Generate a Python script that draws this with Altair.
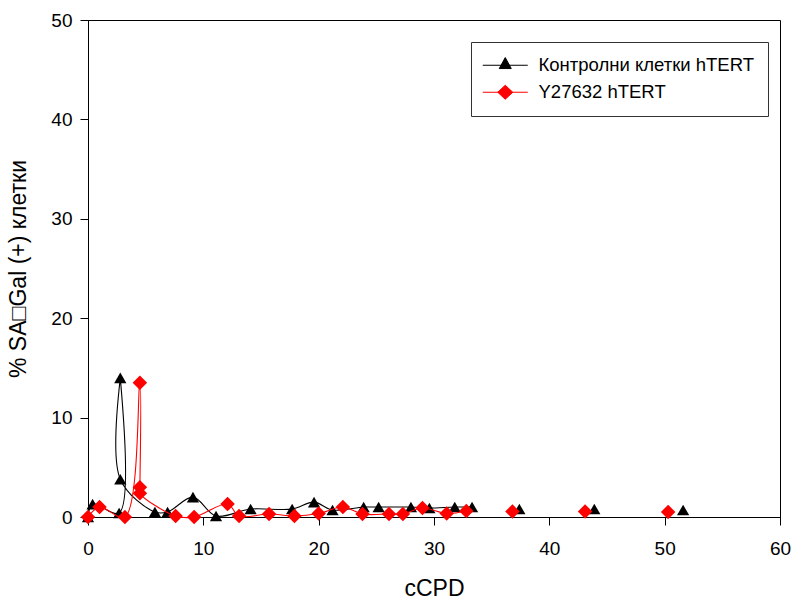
import altair as alt
import pandas as pd

# ---- data ----
series_names = ["Контролни клетки hTERT", "Y27632 hTERT"]

ctrl_x = [0.0, 0.4, 2.7, 2.8, 2.8, 5.8, 6.9, 9.1, 11.1, 14.1, 17.7, 19.6, 21.2, 23.9,
          25.2, 28.0, 29.6, 31.8, 33.3, 37.4, 43.9, 51.6]
ctrl_y = [0.0, 1.3, 0.4, 14.0, 3.8, 0.5, 0.5, 2.0, 0.1, 0.8, 0.8, 1.5, 0.7, 1.0,
          1.0, 1.0, 0.9, 1.0, 1.0, 0.8, 0.8, 0.7]
ctrl_joined = 19  # first points joined by the smoothed curve

y27_x = [0.0, 1.0, 3.2, 4.5, 4.5, 4.5, 7.6, 9.2, 12.1, 13.1, 15.7, 17.9, 20.0, 22.1,
         23.8, 26.1, 27.3, 29.0, 31.1, 32.8, 36.8, 43.1, 50.3]
y27_y = [0.0, 1.0, 0.0, 13.5, 3.0, 2.4, 0.1, 0.0, 1.3, 0.1, 0.3, 0.1, 0.35, 1.0,
         0.3, 0.3, 0.3, 0.9, 0.35, 0.6, 0.55, 0.55, 0.5]
y27_joined = 20

x_ticks = [0, 10, 20, 30, 40, 50, 60]
y_ticks = [0, 10, 20, 30, 40, 50]

rows = []
for i, (x, y) in enumerate(zip(ctrl_x, ctrl_y)):
    rows.append({"x": x, "y": y, "series": series_names[0], "idx": i, "joined": i < ctrl_joined})
for i, (x, y) in enumerate(zip(y27_x, y27_y)):
    rows.append({"x": x, "y": y, "series": series_names[1], "idx": i, "joined": i < y27_joined})
df = pd.DataFrame(rows)

FONT = "Liberation Sans"

xs = alt.Scale(domain=[0, 60], nice=False, zero=False)
ys = alt.Scale(domain=[0, 50], nice=False)

x_enc = alt.X("x:Q", scale=xs,
              axis=alt.Axis(values=x_ticks, title="cCPD", labelPadding=14, labelFlush=False,
                            titleX=346, titleY=78, titleBaseline="alphabetic",
                            titleAlign="center"))
y_enc = alt.Y("y:Q", scale=ys,
              axis=alt.Axis(values=y_ticks, title="% SA\u25a1Gal (+) клетки", labelPadding=8,
                            labelFlush=False,
                            titleX=-63, titleY=248.5, titleAngle=270,
                            titleAlign="center", titleBaseline="alphabetic"))

base = alt.Chart(df)

def line_layer(name, col):
    return base.transform_filter(
        (alt.datum.series == name) & alt.datum.joined
    ).mark_line(interpolate="catmull-rom", color=col, strokeWidth=1.1).encode(
        x=x_enc, y=y_enc, order=alt.Order("idx:Q"))

def point_layer(name, col, shape, size):
    return base.transform_filter(alt.datum.series == name).mark_point(
        filled=True, color=col, shape=shape, size=size, opacity=1).encode(x=x_enc, y=y_enc)

# legend glyphs: a line segment with the marker in its middle
tri_path = "M-3.75,0L3.75,0M0,-1.28L1.0,0.55L-1.0,0.55Z"
dia_path = "M-3.75,0L3.75,0M0,-1.17L1.25,0L0,1.17L-1.25,0Z"

leg = alt.Legend(title=None, orient="none", legendX=383, legendY=22, direction="vertical",
                 fillColor="white", strokeColor="#333333", padding=14,
                 symbolSize=144, symbolStrokeWidth=1, symbolOffset=11,
                 labelFont=FONT, labelFontSize=18.5, labelLimit=0,
                 labelColor="black", labelOffset=24, rowPadding=8)

col_scale = alt.Scale(domain=series_names, range=["#000000", "#ff0000"])
legend_layer = base.transform_filter("false").mark_point(filled=True, opacity=1).encode(
    x=x_enc, y=y_enc,
    fill=alt.Fill("series:N", scale=col_scale, legend=leg),
    stroke=alt.Stroke("series:N", scale=col_scale, legend=leg),
    shape=alt.Shape("series:N", scale=alt.Scale(domain=series_names, range=[tri_path, dia_path]),
                    legend=leg),
)

chart = alt.layer(
    line_layer(series_names[0], "#000000"),
    point_layer(series_names[0], "#000000", "triangle-up", 150),
    line_layer(series_names[1], "#ff0000"),
    point_layer(series_names[1], "#ff0000", "diamond", 210),
    legend_layer,
).properties(
    width=692, height=497,
    autosize=alt.AutoSizeParams(type="none"),
    padding={"left": 88, "top": 20, "right": 13, "bottom": 82},
    background="white",
).configure_view(
    stroke="#000000", strokeWidth=1
).configure_axis(
    grid=False, domainColor="#000000", domainWidth=1, tickColor="#000000", tickSize=8,
    tickWidth=1, labelFont=FONT, labelFontSize=19, labelColor="#000000",
    titleFont=FONT, titleFontSize=23, titleFontWeight="normal", titleColor="#000000",
)

chart.save("out.html", embed_options={"renderer": "svg", "actions": False})
